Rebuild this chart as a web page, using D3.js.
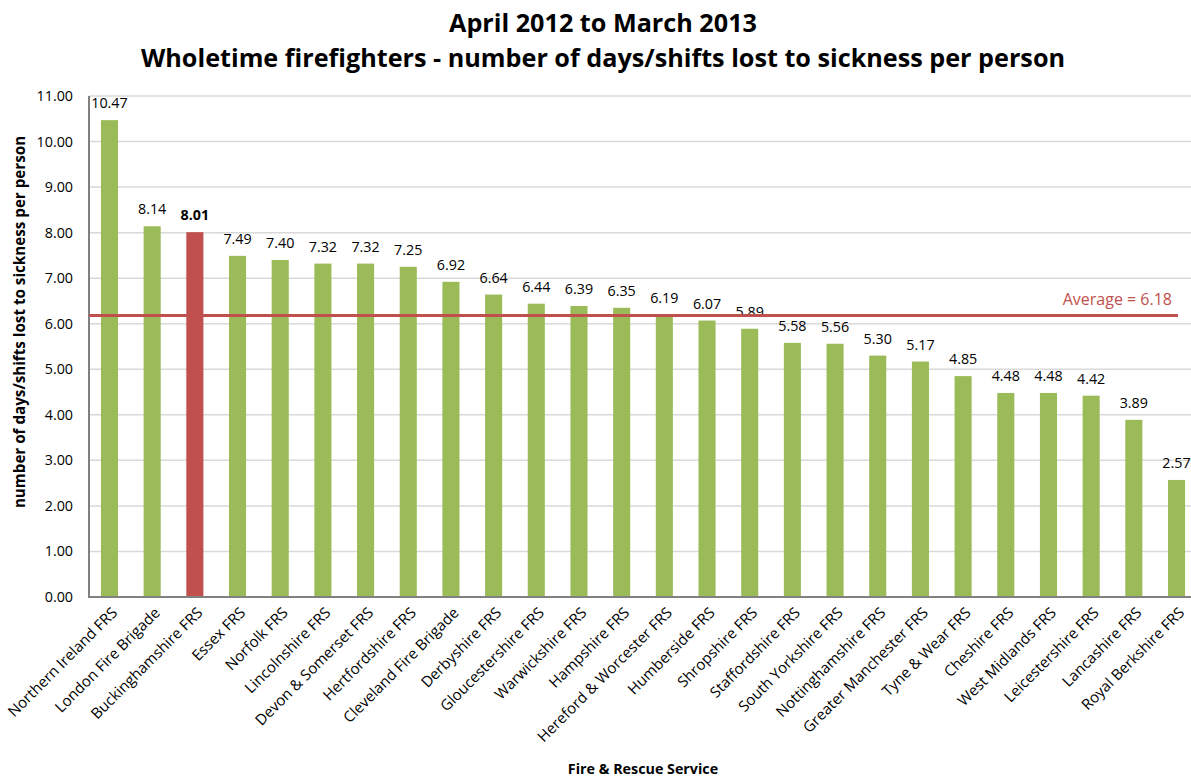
<!DOCTYPE html>
<html><head><meta charset="utf-8">
<script src="https://cdn.jsdelivr.net/npm/d3@7"></script>
<style>body{margin:0;background:#fff}svg{display:block}text{font-family:"Open Sans",sans-serif}</style>
</head><body><svg id="c" width="1191" height="778"></svg>
<script>
const categories=["Northern Ireland FRS","London Fire Brigade","Buckinghamshire FRS","Essex FRS","Norfolk FRS","Lincolnshire FRS","Devon & Somerset FRS","Hertfordshire FRS","Cleveland Fire Brigade","Derbyshire FRS","Gloucestershire FRS","Warwickshire FRS","Hampshire FRS","Hereford & Worcester FRS","Humberside FRS","Shropshire FRS","Staffordshire FRS","South Yorkshire FRS","Nottinghamshire FRS","Greater Manchester FRS","Tyne & Wear FRS","Cheshire FRS","West Midlands FRS","Leicestershire FRS","Lancashire FRS","Royal Berkshire FRS"];
const values=[10.47,8.14,8.01,7.49,7.40,7.32,7.32,7.25,6.92,6.64,6.44,6.39,6.35,6.19,6.07,5.89,5.58,5.56,5.30,5.17,4.85,4.48,4.48,4.42,3.89,2.57];
const highlight="Buckinghamshire FRS";
const average=6.18;
const yTicks=[0,1,2,3,4,5,6,7,8,9,10,11];
const titleLines=["April 2012 to March 2013","Wholetime firefighters - number of days/shifts lost to sickness per person"];
const yTitle="number of days/shifts lost to sickness per person";
const xTitle="Fire & Rescue Service";

const svg=d3.select("#c");
const x0=89, y0=597, yTop=96, xEnd=1197;
const x=d3.scaleBand().domain(categories).range([x0, xEnd]).paddingInner(0.6).paddingOuter(0.28);
const y=d3.scaleLinear().domain([0,11]).range([y0,yTop]);

// gridlines
svg.append("g").selectAll("line").data(yTicks.filter(d=>d>0)).join("line")
 .attr("x1",x0).attr("x2",1191).attr("y1",d=>y(d)).attr("y2",d=>y(d))
 .attr("stroke","#d9d9d9").attr("stroke-width",1.5);

// y tick labels
svg.append("g").selectAll("text").data(yTicks).join("text")
 .attr("x",73).attr("y",d=>y(d)).attr("dy","0.35em").attr("text-anchor","end")
 .attr("font-size",14.3).attr("fill","#000").text(d=>d.toFixed(2));

// bars
svg.append("g").selectAll("rect").data(categories).join("rect")
 .attr("x",d=>x(d)).attr("width",x.bandwidth())
 .attr("y",(d,i)=>y(values[i])).attr("height",(d,i)=>y0-y(values[i]))
 .attr("fill",d=>d===highlight?"#c0504d":"#9bbb59");

// value labels
svg.append("g").selectAll("text").data(categories).join("text")
 .attr("x",d=>x(d)+x.bandwidth()/2).attr("y",(d,i)=>y(values[i])-12)
 .attr("text-anchor","middle").attr("font-size",14.3)
 .attr("font-weight",d=>d===highlight?"bold":"normal")
 .text((d,i)=>values[i].toFixed(2));

// axes lines
svg.append("line").attr("x1",x0).attr("x2",x0).attr("y1",yTop).attr("y2",y0+1).attr("stroke","#808080").attr("stroke-width",2);
svg.append("line").attr("x1",x0-1).attr("x2",1191).attr("y1",y0).attr("y2",y0).attr("stroke","#808080").attr("stroke-width",2);

// average line
svg.append("line").attr("x1",x0).attr("x2",1178).attr("y1",y(average)).attr("y2",y(average))
 .attr("stroke","#c0504d").attr("stroke-width",3);
svg.append("text").attr("x",1172).attr("y",305).attr("text-anchor","end")
 .attr("font-size",16).attr("fill","#c0504d").text("Average = "+average.toFixed(2));

// x labels
svg.append("g").selectAll("text").data(categories).join("text")
 .attr("transform",d=>`translate(${x(d)+x.bandwidth()/2+5},${y0+13}) rotate(-45)`)
 .attr("text-anchor","end").attr("dy","0.35em").attr("font-size",15).text(d=>d);

// titles
svg.selectAll(".t").data(titleLines).join("text").attr("class","t")
 .attr("x",603).attr("y",(d,i)=>32+i*35).attr("text-anchor","middle")
 .attr("font-size",25.2).attr("font-weight","bold").text(d=>d);

svg.append("text").attr("transform","translate(25,322) rotate(-90)").attr("text-anchor","middle")
 .attr("font-size",15.2).attr("font-weight","bold").text(yTitle);
svg.append("text").attr("x",643).attr("y",774).attr("text-anchor","middle")
 .attr("font-size",14.3).attr("font-weight","bold").text(xTitle);
</script></body></html>
